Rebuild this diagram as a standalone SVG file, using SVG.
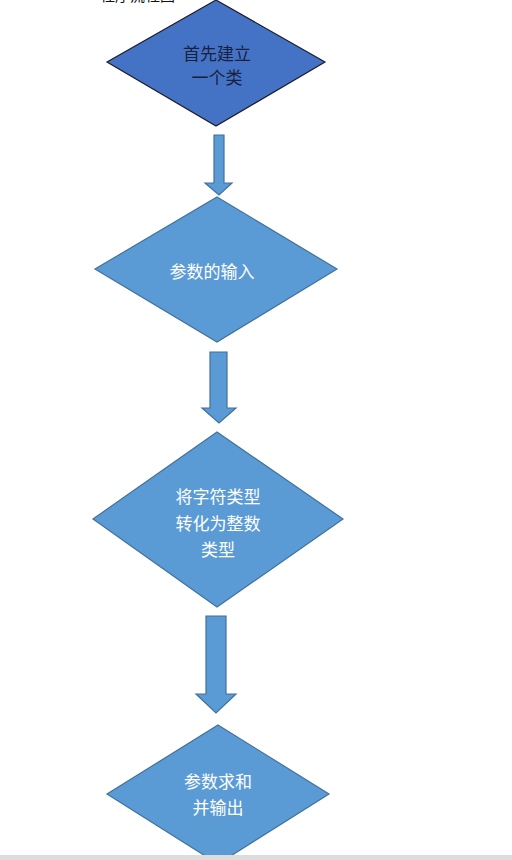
<svg xmlns="http://www.w3.org/2000/svg" width="512" height="860" viewBox="0 0 512 860">
  <style>
    .d1 { fill: #4472C4; stroke: #1c1c2c; stroke-width: 1.2; }
    .d { fill: #5B9BD5; stroke: #41719C; stroke-width: 1.2; }
    .arrow { fill: #5B9BD5; stroke: #41719C; stroke-width: 1.2; }
    .t { font-family: "Noto Sans CJK SC", "Noto Sans", sans-serif; font-size: 17px; text-anchor: middle; }
    .tw { fill: #ffffff; }
    .tk { fill: #1a2140; }
  </style>
  <rect x="0" y="0" width="512" height="860" fill="#ffffff"/>
  <text x="100" y="1" font-family="Noto Sans CJK SC, sans-serif" font-size="15" fill="#111111">程序流程图</text>
  <g id="connectors">
    <polygon class="arrow" points="214,135 224,135 224,183 232,183 219,195 205,183 214,183"/>
    <polygon class="arrow" points="210,352 227,352 227,408 236,408 219,423 202,408 210,408"/>
    <polygon class="arrow" points="206,616 226,616 226,694 236,694 216,713 196,694 206,694"/>
  </g>
  <g id="node1">
    <polygon class="d1" points="216,0 325,62 216,126 107,62"/>
    <text class="t tk" x="217" y="60">首先建立</text>
    <text class="t tk" x="217" y="84">一个类</text>
  </g>
  <g id="node2">
    <polygon class="d" points="217,197 337,269 217,342 95,269"/>
    <text class="t tw" x="212" y="278">参数的输入</text>
  </g>
  <g id="node3">
    <polygon class="d" points="217,432 343,519 217,607 93,519"/>
    <text class="t tw" x="218" y="503">将字符类型</text>
    <text class="t tw" x="218" y="530">转化为整数</text>
    <text class="t tw" x="218" y="556">类型</text>
  </g>
  <g id="node4">
    <polygon class="d" points="218,725 329,794 218,864 107,794"/>
    <text class="t tw" x="218" y="788">参数求和</text>
    <text class="t tw" x="218" y="814">并输出</text>
  </g>
  <rect x="0" y="855" width="512" height="5" fill="#dcdcdc"/>
</svg>
